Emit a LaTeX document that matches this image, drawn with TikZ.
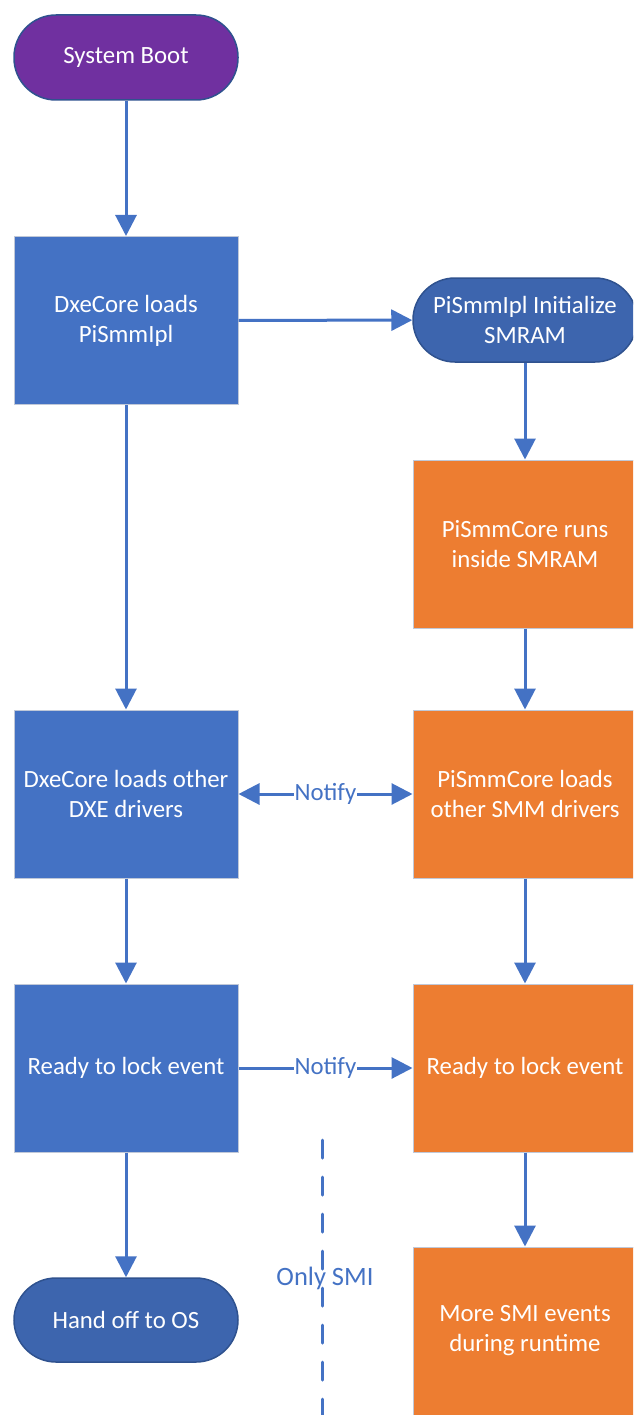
\documentclass[tikz,border=0pt]{standalone}
\usepackage{fontspec}
\setmainfont{Carlito}
\usetikzlibrary{arrows.meta}
\definecolor{boxblue}{HTML}{4472C4}
\definecolor{termblue}{HTML}{3D65AE}
\definecolor{termedge}{HTML}{2F528F}
\definecolor{boxorange}{HTML}{ED7D31}
\definecolor{boxpurple}{HTML}{7030A0}
\definecolor{edgegray}{HTML}{C0C8D8}
\tikzset{
  txt/.style={text=white, font=\fontsize{24.8}{30}\selectfont, align=center, inner sep=0pt},
  procbox/.style={txt, draw=edgegray, line width=1pt, minimum width=224pt, minimum height=168pt},
  bluebox/.style={procbox, fill=boxblue},
  orangebox/.style={procbox, fill=boxorange},
  termbox/.style={txt, draw=termedge, line width=1.5pt, minimum width=224pt, minimum height=84pt, rounded corners=42pt},
  conn/.style={draw=boxblue, line width=3pt, -{Triangle[length=21pt,width=21pt]}},
  dconn/.style={draw=boxblue, line width=3pt, {Triangle[length=21pt,width=21pt]}-{Triangle[length=21pt,width=21pt]}},
  lbl/.style={text=boxblue, font=\fontsize{24.8}{30}\selectfont, inner sep=1pt}
}
\begin{document}
\begin{tikzpicture}[x=1pt,y=-1pt]
\useasboundingbox (0,0) rectangle (633,1415);
\clip (0,0) rectangle (633,1415);
% nodes
\node[termbox, fill=boxpurple, minimum height=85pt] (boot) at (126,57.5) {System Boot};
\node[bluebox] (dxe1) at (126,320.5) {DxeCore loads\\PiSmmIpl};
\node[termbox, fill=termblue] (ipl) at (525,320) {PiSmmIpl Initialize\\SMRAM};
\node[orangebox] (smm1) at (525,544) {PiSmmCore runs\\inside SMRAM};
\node[bluebox] (dxe2) at (126,794) {DxeCore loads other\\DXE drivers};
\node[orangebox] (smm2) at (525,794) {PiSmmCore loads\\other SMM drivers};
\node[bluebox] (dxe3) at (126,1068) {Ready to lock event};
\node[orangebox] (smm3) at (525,1068) {Ready to lock event};
\node[termbox, fill=termblue] (os) at (126,1320) {Hand off to OS};
\node[orangebox] (smm4) at (525,1331) {More SMI events\\during runtime};
% connectors
\draw[conn] (boot) -- (dxe1);
\draw[conn] (dxe1) -- (ipl);
\draw[conn] (ipl) -- (smm1);
\draw[conn] (smm1) -- (smm2);
\draw[conn] (dxe1) -- (dxe2);
\draw[conn] (dxe2) -- (dxe3);
\draw[conn] (smm2) -- (smm3);
\draw[conn] (dxe3) -- (os);
\draw[conn] (smm3) -- (smm4);
\draw[dconn] (dxe2) -- node[lbl, fill=white] {Notify} (smm2);
\draw[conn] (dxe3) -- node[lbl, fill=white] {Notify} (smm3);
% divider
\coordinate (dtop) at (322,1140);
\coordinate (dbot) at (322,1420);
\draw[boxblue, line width=3pt, line cap=round, dash pattern=on 18pt off 19pt] (dtop) -- (dbot);
\node[lbl, font=\fontsize{26.5}{30}\selectfont] (only) at (325,1278) {Only SMI};
\end{tikzpicture}
\end{document}
